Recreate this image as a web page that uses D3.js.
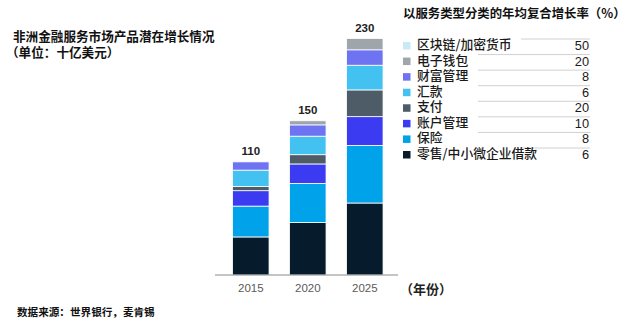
<!DOCTYPE html>
<html>
<head>
<meta charset="utf-8">
<script src="https://cdn.jsdelivr.net/npm/d3@7"></script>
<style>
  html, body { margin: 0; padding: 0; background: #fff; }
  svg { display: block; }
  .cjk { font-family: "Noto Sans CJK SC", "Noto Sans", sans-serif; }
  .num { font-family: "Liberation Sans", Arial, sans-serif; }
</style>
</head>
<body>
<svg id="chart" width="626" height="335"></svg>
<script>
// Years on the x axis
const years = ["2015", "2020", "2025"];

// Product categories, stacked bottom to top
const categories = ["零售/中小微企业借款", "保险", "账户管理", "支付", "汇款", "财富管理", "电子钱包", "区块链/加密货币"];

// Market size per category (USD bn), one value per year
const lending     = [37, 51, 70];
const insurance   = [30, 38, 56];
const accountMgmt = [15, 19, 28];
const payments    = [4, 9, 26];
const remittance  = [16, 18, 24];
const wealthMgmt  = [8, 11, 15];
const eWallet     = [0, 4, 11];
const blockchain  = [0, 0, 0];

// Totals shown above each bar
const totals = [110, 150, 230];

// Compound annual growth rate (%) per category, same order as categories
const cagr = [6, 8, 10, 20, 6, 8, 20, 50];

const colors = ["#061b2b", "#00a3ea", "#3b3cf2", "#4d5c67", "#43c1f1", "#6e73f1", "#9fa6ab", "#c8eaf5"];

const seriesValues = [lending, insurance, accountMgmt, payments, remittance, wealthMgmt, eWallet, blockchain];
const rows = years.map((y, i) => {
  const r = { year: y };
  categories.forEach((c, k) => { r[c] = seriesValues[k][i]; });
  return r;
});

const svg = d3.select("#chart");

const x = d3.scaleBand().domain(years).range([222.3, 393.3]).paddingInner(0.36).paddingOuter(0.18);
const y = d3.scaleLinear().domain([0, 230]).range([275, 38.5]);
const color = d3.scaleOrdinal().domain(categories).range(colors);

const stacked = d3.stack().keys(categories)(rows);

// Stacked bars
svg.append("g")
  .selectAll("g")
  .data(stacked)
  .join("g")
  .attr("fill", d => color(d.key))
  .selectAll("rect")
  .data(d => d)
  .join("rect")
  .attr("x", d => x(d.data.year))
  .attr("width", x.bandwidth())
  .attr("y", d => y(d[1]))
  .attr("height", d => Math.max(0, y(d[0]) - y(d[1])))
  .attr("stroke", "#fff")
  .attr("stroke-width", d => (d[1] - d[0]) > 0 ? 0.8 : 0);

// Totals above bars
svg.append("g")
  .selectAll("text")
  .data(years)
  .join("text")
  .attr("class", "num")
  .attr("x", d => x(d) + x.bandwidth() / 2)
  .attr("y", (d, i) => y(totals[i]) - 7)
  .attr("text-anchor", "middle")
  .attr("font-size", 11.5)
  .attr("font-weight", "bold")
  .attr("fill", "#222")
  .text((d, i) => totals[i]);

// X axis
const xAxis = svg.append("g")
  .attr("transform", "translate(0,275)")
  .call(d3.axisBottom(x).tickSize(0).tickPadding(9));
xAxis.select(".domain").remove();
xAxis.append("line")
  .attr("x1", 215).attr("x2", 398)
  .attr("stroke", "#8a8a8a").attr("stroke-width", 1);
xAxis.selectAll(".tick text")
  .attr("class", "num")
  .attr("font-size", 11.5)
  .attr("fill", "#5a5a5a");

svg.append("text")
  .attr("class", "cjk")
  .attr("x", 400).attr("y", 293.5)
  .attr("font-size", 13).attr("font-weight", "bold").attr("fill", "#222")
  .text("（年份）");

// Title
svg.append("text")
  .attr("class", "cjk")
  .attr("x", 13).attr("y", 41)
  .attr("font-size", 12.6).attr("font-weight", "bold").attr("fill", "#111")
  .text("非洲金融服务市场产品潜在增长情况");
svg.append("text")
  .attr("class", "cjk")
  .attr("x", 6).attr("y", 57)
  .attr("font-size", 12.6).attr("font-weight", "bold").attr("fill", "#111")
  .text("（单位：十亿美元）");

// Source
svg.append("text")
  .attr("class", "cjk")
  .attr("x", 17).attr("y", 316)
  .attr("font-size", 10.6).attr("font-weight", "bold").attr("fill", "#111")
  .text("数据来源：世界银行，麦肯锡");

// Legend with growth rates
svg.append("text")
  .attr("class", "cjk")
  .attr("x", 403).attr("y", 18)
  .attr("font-size", 12.4).attr("font-weight", "bold").attr("fill", "#111")
  .text("以服务类型分类的年均复合增长率（%）");

const legendOrder = categories.map((c, k) => ({ name: c, rate: cagr[k] })).reverse();
const ly = d3.scalePoint().domain(legendOrder.map(d => d.name)).range([44.5, 153.5]);

const legend = svg.append("g").selectAll("g")
  .data(legendOrder)
  .join("g")
  .attr("transform", d => `translate(0,${ly(d.name)})`);

legend.append("rect")
  .attr("x", 403).attr("y", -2.5)
  .attr("width", 7.5).attr("height", 7.5)
  .attr("fill", d => color(d.name));

const labels = legend.append("text")
  .attr("class", "cjk")
  .attr("x", 417).attr("y", 4.5)
  .attr("font-size", 12.8).attr("font-weight", 500).attr("fill", "#1a1a1a")
  .text(d => d.name);

legend.append("text")
  .attr("class", "num")
  .attr("x", 589).attr("y", 5.5)
  .attr("text-anchor", "end")
  .attr("font-size", 12.8).attr("font-weight", 500).attr("fill", "#1a1a1a")
  .text(d => d.rate);

labels.each(function () {
  const end = 417 + this.getComputedTextLength();
  d3.select(this.parentNode).insert("line", "text")
    .attr("x1", end > 478 ? 521 : 478).attr("x2", 590)
    .attr("y1", -5.5).attr("y2", -5.5)
    .attr("stroke", "#d0d0d0").attr("stroke-width", 1);
});
</script>
</body>
</html>
